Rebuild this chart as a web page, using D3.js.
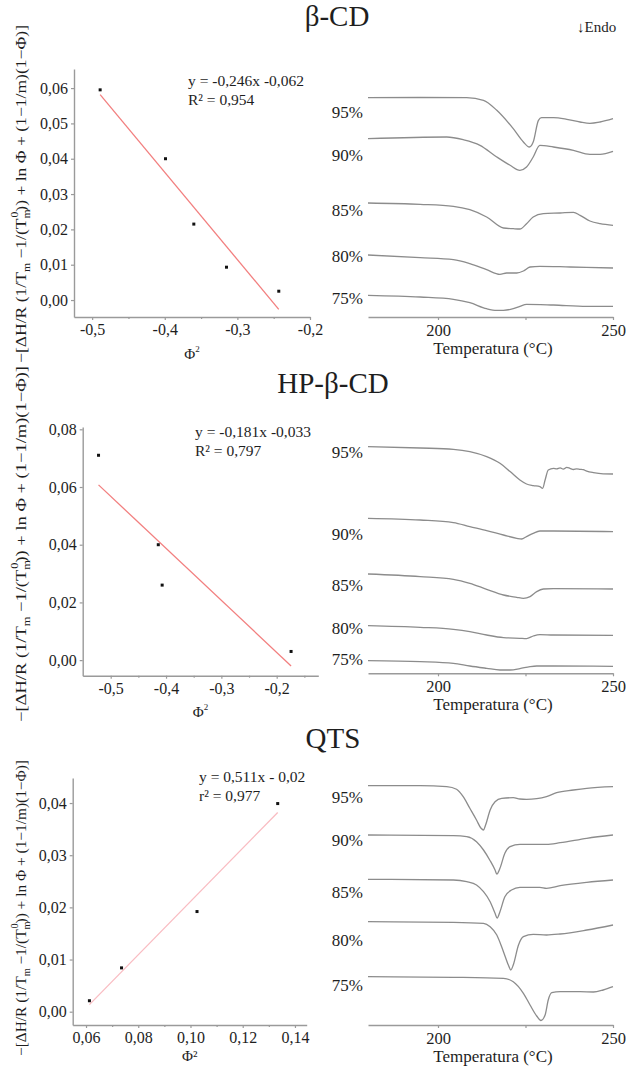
<!DOCTYPE html>
<html><head><meta charset="utf-8">
<script src="https://cdn.jsdelivr.net/npm/d3@7"></script>
<style>
html,body{margin:0;padding:0;background:#fff;}
svg{display:block;}
svg text{font-family:"Liberation Serif","Times New Roman",serif;}
</style></head><body>
<svg id="fig" width="629" height="1068"></svg>
<script>
// Melting-point depression plots (left) and DSC thermograms (right)
// for β-CD, HP-β-CD and QTS blends.

// ---- β-CD ----
const betaPhi2 = [-0.489, -0.399, -0.360, -0.315, -0.243];
const betaY    = [0.0595, 0.0400, 0.0215, 0.0093, 0.0025];
const betaXTicks = [-0.5, -0.4, -0.3, -0.2];
const betaXMinor = [-0.45, -0.35, -0.25];
const betaYTicks = [0, 0.01, 0.02, 0.03, 0.04, 0.05, 0.06];
const betaEq = ["y = -0,246x -0,062", "R² = 0,954"];
const betaDSC = [
  {label: "95%", tag: 20.5, pts: [[180,21.93],[195,21.95],[208.2,21.93],[213.0,21.67],[216.8,20.67],[221.5,18.83],[224.4,17.5],[226.1,17.0],[227.2,17.5],[228.7,19.67],[229.6,19.93],[233.0,19.93],[236.8,19.77],[240.6,19.5],[243.4,19.37],[246.3,19.5],[250,19.83]]},
  {label: "90%", tag: 16.17, pts: [[180,17.83],[202.5,18.0],[207.2,17.73],[212.0,17.17],[216.8,16.0],[220.6,15.17],[223.4,14.67],[225.3,15.0],[227.2,16.0],[229.1,17.17],[233.0,17.0],[238.7,16.67],[243.4,16.27],[246.3,16.27],[250,16.57]]},
  {label: "85%", tag: 10.73, pts: [[180,11.4],[194.9,11.27],[204.4,11.07],[209.1,10.73],[213.9,10.0],[218.7,8.9],[221.5,8.83],[223.4,8.8],[225.3,9.33],[227.2,10.0],[230.1,10.33],[234.9,10.4],[238.7,10.47],[240.6,10.17],[243.4,9.6],[246.3,9.33],[250,9.17]]},
  {label: "80%", tag: 6.1, pts: [[180,6.2],[194.9,5.93],[204.4,5.73],[209.1,5.33],[213.9,4.73],[217.7,4.27],[219.6,4.4],[222.5,4.4],[224.4,4.6],[226.3,5.0],[229.1,5.07],[237.7,5.0],[250,4.9]]},
  {label: "75%", tag: 1.9, pts: [[180,2.17],[194.9,2.0],[204.4,1.77],[209.1,1.43],[213.9,0.83],[216.8,0.67],[218.7,0.67],[221.5,0.83],[223.4,1.07],[225.3,1.27],[233.0,1.2],[242.5,1.07],[250,1.07]]}
];

// ---- HP-β-CD ----
const hpPhi2 = [-0.522, -0.414, -0.407, -0.174];
const hpY    = [0.071, 0.040, 0.026, 0.003];
const hpXTicks = [-0.5, -0.4, -0.3, -0.2];
const hpXMinor = [-0.45, -0.35, -0.25, -0.15];
const hpYTicks = [0, 0.02, 0.04, 0.06, 0.08];
const hpEq = ["y = -0,181x -0,033", "R² = 0,797"];
const hpDSC = [
  {label: "95%", tag: 22.17, pts: [[180,22.67],[194.9,22.53],[204.4,22.4],[209.1,22.17],[213.9,21.67],[217.7,21.0],[220.6,20.17],[223.4,19.33],[225.3,18.93],[227.2,18.77],[229.1,18.67],[229.9,18.5],[230.6,19.33],[231.5,20.33],[233.0,20.5],[233.9,20.45],[234.9,20.55],[235.8,20.42],[236.8,20.6],[237.7,20.5],[238.7,20.38],[239.6,20.45],[240.6,20.4],[241.5,20.36],[242.5,20.22],[244.4,20.07],[247.2,19.95],[250,19.93]]},
  {label: "90%", tag: 13.9, pts: [[180,15.5],[194.9,15.33],[204.4,15.07],[209.1,14.67],[213.9,14.27],[218.7,13.83],[222.5,13.5],[223.9,13.43],[225.3,13.67],[227.2,14.0],[229.1,14.23],[233.0,14.23],[250,14.17]]},
  {label: "85%", tag: 8.83, pts: [[180,9.93],[194.9,9.67],[204.4,9.4],[209.1,9.0],[213.9,8.4],[218.7,7.83],[222.5,7.6],[224.4,7.5],[226.3,7.67],[228.2,8.17],[230.1,8.43],[233.0,8.47],[250,8.43]]},
  {label: "80%", tag: 4.5, pts: [[180,4.77],[194.9,4.6],[204.4,4.4],[209.1,4.17],[213.9,3.83],[218.7,3.57],[223.4,3.5],[225.3,3.47],[227.2,3.73],[229.1,3.87],[233.0,3.83],[250,3.8]]},
  {label: "75%", tag: 1.4, pts: [[180,1.27],[194.9,1.17],[204.4,1.0],[209.1,0.73],[213.9,0.5],[217.7,0.33],[220.6,0.33],[223.4,0.47],[226.3,0.67],[228.2,0.73],[233.0,0.73],[250,0.7]]}
];

// ---- QTS ----
const qtsPhi2 = [0.0613, 0.0736, 0.1025, 0.1334];
const qtsY    = [0.0021, 0.0084, 0.0192, 0.0399];
const qtsXTicks = [0.06, 0.08, 0.10, 0.12, 0.14];
const qtsXMinor = [0.07, 0.09, 0.11, 0.13];
const qtsYTicks = [0, 0.01, 0.02, 0.03, 0.04];
const qtsEq = ["y = 0,511x - 0,02", "r² = 0,977"];
const qtsDSC = [
  {label: "95%", tag: 22.83, pts: [[180,23.93],[194.9,23.93],[202.5,23.83],[205.3,23.57],[207.2,22.83],[209.1,21.67],[211.0,20.5],[212.3,19.67],[213.0,19.5],[213.6,20.0],[214.9,21.5],[216.3,22.33],[218.2,22.67],[221.5,22.73],[223.4,22.6],[225.3,22.57],[228.2,22.63],[231.0,22.83],[233.9,23.23],[238.7,23.5],[242.5,23.67],[250,23.83]]},
  {label: "90%", tag: 18.5, pts: [[180,19.0],[204.4,18.93],[208.2,18.83],[211.0,18.33],[213.0,17.5],[214.9,16.43],[216.3,15.5],[216.8,15.1],[217.7,15.67],[219.1,17.17],[220.6,17.83],[223.4,18.07],[231.0,18.07],[234.9,18.23],[242.5,18.67],[250,19.0]]},
  {label: "85%", tag: 13.33, pts: [[180,14.57],[204.4,14.5],[208.2,14.33],[211.0,14.0],[213.0,13.33],[214.9,12.33],[216.3,11.17],[216.9,10.7],[217.7,11.33],[219.1,12.83],[221.0,13.5],[223.4,13.77],[229.1,13.77],[231.0,13.67],[234.9,13.93],[242.5,14.27],[250,14.5]]},
  {label: "80%", tag: 8.5, pts: [[180,10.33],[204.4,10.27],[213.0,10.17],[214.9,9.83],[216.8,9.0],[218.7,7.33],[220.1,6.0],[220.8,5.5],[221.5,6.0],[223.0,8.0],[224.4,8.83],[227.2,9.07],[231.0,9.0],[234.9,9.1],[242.5,9.5],[250,10.0]]},
  {label: "75%", tag: 4.0, pts: [[180,4.83],[204.4,4.77],[218.7,4.67],[221.5,4.33],[224.4,3.17],[226.3,2.0],[228.2,0.9],[229.4,0.45],[230.6,1.0],[231.5,2.5],[232.5,3.23],[234.9,3.33],[240.6,3.33],[244.4,3.3],[247.2,3.5],[250,3.83]]}
];

const tempTicks = [200, 250];
const tempMinor = [225];
const titles = ["β-CD", "HP-β-CD", "QTS"];

// ---------------------------------------------------------------
const svg = d3.select("#fig");
const FONT = "'Liberation Serif', 'Times New Roman', serif";
const INK = "#1e1e1e";
const AXIS = "#9a9a9a";
const CURVE = "#8c8c8c";

const loc = d3.formatLocale({decimal: ",", thousands: ".", grouping: [3], currency: ["", ""], minus: "-"});

function styleAxis(g, fs) {
  g.attr("font-family", null).style("font-family", FONT).attr("font-size", fs);
  g.select(".domain").attr("stroke", AXIS).attr("stroke-width", 1.4);
  g.selectAll(".tick line").attr("stroke", AXIS).attr("stroke-width", 1.2);
  g.selectAll(".tick text").attr("fill", INK);
}

// least-squares line through the measured points
function linearFit(xs, ys) {
  const mx = d3.mean(xs), my = d3.mean(ys);
  let sxy = 0, sxx = 0;
  xs.forEach((x, i) => { sxy += (x - mx) * (ys[i] - my); sxx += (x - mx) * (x - mx); });
  const b = sxy / sxx;
  return {b, a: my - b * mx};
}

function yTitle(cx, cy, len) {
  const t = svg.append("text")
    .attr("transform", `translate(${cx},${cy}) rotate(-90)`)
    .attr("text-anchor", "middle")
    .attr("font-size", 15).attr("fill", INK)
    .attr("textLength", len).attr("lengthAdjust", "spacingAndGlyphs");
  t.append("tspan").text("−[ΔH/R (1/T");
  t.append("tspan").attr("font-size", 10).attr("dy", 4).text("m");
  t.append("tspan").attr("dy", -4).text(" −1/(T");
  t.append("tspan").attr("font-size", 10).attr("dy", 4).text("m");
  t.append("tspan").attr("font-size", 10).attr("dx", -7).attr("dy", -12).text("0");
  t.append("tspan").attr("dy", 8).text(")) + ln Φ + (1−1/m)(1−Φ)]");
}

function scatterPanel(c) {
  const x = d3.scaleLinear().domain(c.xDomain).range(c.xRange);
  const y = d3.scaleLinear().domain(c.yDomain).range(c.yRange);
  const x0 = c.xRange[0], y0 = c.yRange[0];

  const gx = svg.append("g").attr("transform", `translate(0,${y0})`)
    .call(d3.axisBottom(x).tickValues(c.xTicks).tickFormat(loc.format(c.xFmt))
      .tickSize(3).tickSizeOuter(0).tickPadding(4));
  styleAxis(gx, 16);
  const gxm = svg.append("g").attr("transform", `translate(0,${y0})`)
    .call(d3.axisBottom(x).tickValues(c.xMinor).tickFormat("").tickSize(2));
  gxm.select(".domain").remove();
  styleAxis(gxm, 16);

  const gy = svg.append("g").attr("transform", `translate(${x0},0)`)
    .call(d3.axisLeft(y).tickValues(c.yTicks).tickFormat(loc.format(".2f"))
      .tickSize(3).tickSizeOuter(0).tickPadding(3));
  styleAxis(gy, 16);

  // fitted line
  const fit = linearFit(c.xs, c.ys);
  const ext = d3.extent(c.xs);
  svg.append("path")
    .datum(ext.map(v => [v, fit.a + fit.b * v]))
    .attr("d", d3.line().x(d => x(d[0])).y(d => y(d[1])))
    .attr("fill", "none").attr("stroke", c.lineColor).attr("stroke-width", 1.3);

  // data points
  svg.append("g").selectAll("rect").data(c.xs.map((v, i) => [v, c.ys[i]]))
    .join("rect")
    .attr("x", d => x(d[0]) - 1.5).attr("y", d => y(d[1]) - 1.5)
    .attr("width", 3).attr("height", 3).attr("fill", "#111");

  // equation
  c.eq.forEach((s, i) => {
    svg.append("text").attr("x", c.eqX).attr("y", c.eqY + i * 18.5)
      .attr("font-size", 15.5).attr("fill", INK).text(s);
  });

  // x title
  const xt = svg.append("text")
    .attr("x", (c.xRange[0] + c.xRange[1]) / 2).attr("y", c.xTitleY)
    .attr("text-anchor", "middle")
    .attr("font-size", 15).attr("fill", INK);
  if (c.supGlyph) {
    xt.text("Φ²");
  } else {
    xt.append("tspan").text("Φ");
    xt.append("tspan").attr("font-size", 9).attr("dy", -7).text("2");
  }

  yTitle(c.yTitleX, c.yTitleCY, c.yTitleLen);
}

function dscPanel(c) {
  const x = d3.scaleLinear().domain([180, 250]).range([368, 613]);
  const y = d3.scaleLinear().domain([0, 25]).range([c.axisY, c.axisY - 250]);

  const gx = svg.append("g").attr("transform", `translate(0,${c.axisY})`)
    .call(d3.axisBottom(x).tickValues(tempTicks).tickFormat(d3.format("d"))
      .tickSize(3).tickSizeOuter(0).tickPadding(4));
  styleAxis(gx, 16.5);
  const gxm = svg.append("g").attr("transform", `translate(0,${c.axisY})`)
    .call(d3.axisBottom(x).tickValues(tempMinor).tickFormat("").tickSize(3));
  gxm.select(".domain").remove();
  styleAxis(gxm, 16);

  svg.append("text").attr("x", 493).attr("y", c.axisY + 37)
    .attr("text-anchor", "middle")
    .attr("font-size", 17).attr("fill", INK).text("Temperatura (°C)");

  const line = d3.line().x(d => x(d[0])).y(d => y(d[1])).curve(d3.curveMonotoneX);
  const g = svg.append("g");
  g.selectAll("path").data(c.curves).join("path")
    .attr("d", d => line(d.pts))
    .attr("fill", "none").attr("stroke", CURVE).attr("stroke-width", 1.3);
  g.selectAll("text").data(c.curves).join("text")
    .attr("x", 363).attr("y", d => y(d.tag)).attr("dy", "0.35em")
    .attr("text-anchor", "end")
    .attr("font-size", 17).attr("fill", INK).text(d => d.label);
}

// ---- titles ----
[[337, 26], [333, 393], [333, 748]].forEach((p, i) => {
  svg.append("text").attr("x", p[0]).attr("y", p[1]).attr("text-anchor", "middle")
    .attr("font-size", 29).attr("fill", INK).text(titles[i]);
});
svg.append("text").attr("x", 577).attr("y", 32)
  .attr("font-size", 15).attr("fill", INK).text("↓Endo");

scatterPanel({
  xs: betaPhi2, ys: betaY, xTicks: betaXTicks, xMinor: betaXMinor, yTicks: betaYTicks,
  xDomain: [-0.525, -0.2], xRange: [74, 310], yDomain: [-0.0048, 0.0654], yRange: [317, 69],
  xFmt: ".1f", lineColor: "#f27f7f", eq: betaEq, eqX: 188, eqY: 86,
  xTitleY: 359, yTitleX: 26, yTitleCY: 194, yTitleLen: 338
});
scatterPanel({
  xs: hpPhi2, ys: hpY, xTicks: hpXTicks, xMinor: hpXMinor, yTicks: hpYTicks,
  xDomain: [-0.5506, -0.1248], xRange: [82.7, 318.3], yDomain: [-0.0054, 0.0808], yRange: [675.7, 427],
  xFmt: ".1f", lineColor: "#f27f7f", eq: hpEq, eqX: 195, eqY: 437,
  xTitleY: 717, yTitleX: 26, yTitleCY: 544, yTitleLen: 356
});
scatterPanel({
  xs: qtsPhi2, ys: qtsY, xTicks: qtsXTicks, xMinor: qtsXMinor, yTicks: qtsYTicks,
  xDomain: [0.0549, 0.1445], xRange: [72.7, 306.7], yDomain: [-0.00255, 0.0448], yRange: [1025, 778],
  xFmt: ".2f", lineColor: "#f9bcc2", eq: qtsEq, eqX: 199, eqY: 782, supGlyph: true,
  xTitleY: 1061, yTitleX: 26, yTitleCY: 908, yTitleLen: 296
});

dscPanel({axisY: 317, curves: betaDSC});
dscPanel({axisY: 673.3, curves: hpDSC});
dscPanel({axisY: 1025, curves: qtsDSC});
</script>
</body></html>
